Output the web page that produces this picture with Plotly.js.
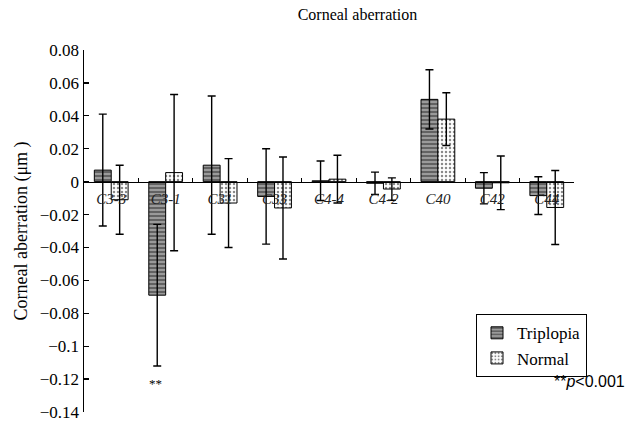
<!DOCTYPE html>
<html>
<head>
<meta charset="utf-8">
<script src="https://cdn.plot.ly/plotly-3.0.1.min.js"></script>
<style>html,body{margin:0;padding:0;background:#fff;}#chart{width:627px;height:423px;}</style>
</head>
<body>
<div id="chart"></div>
<script>
const categories = ["C3-3", "C3-1", "C31", "C33", "C4-4", "C4-2", "C40", "C42", "C44"];
const triplopia = [0.007, -0.069, 0.010, -0.009, 0.0005, -0.001, 0.050, -0.004, -0.0085];
const triplopiaErr = [0.034, 0.043, 0.042, 0.029, 0.012, 0.0068, 0.018, 0.0095, 0.0115];
const normal = [-0.011, 0.0055, -0.013, -0.016, 0.0015, -0.0045, 0.038, -0.0007, -0.0157];
const normalErr = [0.021, 0.0475, 0.027, 0.031, 0.0145, 0.0068, 0.016, 0.0163, 0.0225];
const yTicks = [0.08, 0.06, 0.04, 0.02, 0, -0.02, -0.04, -0.06, -0.08, -0.1, -0.12, -0.14];

const serif = "'Liberation Serif', 'DejaVu Serif', serif";
const sans = "'Liberation Sans', Arial, sans-serif";
const errStyle = {type: "data", visible: true, color: "#000", thickness: 1.4, width: 4};

const traces = [
  {
    type: "bar", name: "Triplopia", x: categories, y: triplopia,
    error_y: Object.assign({array: triplopiaErr}, errStyle),
    marker: {color: "#8c8c8c", line: {color: "#000", width: 1},
      pattern: {shape: "-", fgcolor: "#4a4a4a", bgcolor: "#9a9a9a", size: 4, solidity: 0.35}}
  },
  {
    type: "bar", name: "Normal", x: categories, y: normal,
    error_y: Object.assign({array: normalErr}, errStyle),
    marker: {color: "#ffffff", line: {color: "#000", width: 1},
      pattern: {shape: ".", fgcolor: "#8a8a8a", bgcolor: "#ffffff", size: 4, solidity: 0.3}}
  }
];

const layout = {
  width: 627, height: 423,
  margin: {l: 84, r: 53, t: 50, b: 11},
  paper_bgcolor: "#fff", plot_bgcolor: "#fff",
  font: {family: serif, color: "#000", size: 16},
  title: {text: "Corneal aberration", x: 0.57, xanchor: "center", y: 0.965, yanchor: "middle",
    font: {family: serif, size: 16, color: "#000"}},
  barmode: "group", bargap: 0.38, bargroupgap: 0,
  showlegend: true,
  legend: {x: 0.80, y: 0.27, xanchor: "left", yanchor: "top",
    bordercolor: "#000", borderwidth: 1, bgcolor: "#fff",
    font: {family: serif, size: 17, color: "#000"}, itemwidth: 30, tracegroupgap: 0},
  xaxis: {
    type: "category", anchor: "free", position: 0.63636,
    showline: true, linecolor: "#000", linewidth: 1.3,
    ticks: "inside", ticklen: 4, tickwidth: 1.2, tickcolor: "#000", tickson: "boundaries",
    showgrid: false, zeroline: false,
    tickfont: {family: serif, size: 15, style: "italic", color: "#222"},
    ticklabelstandoff: 3
  },
  yaxis: {
    range: [-0.14, 0.08], tickvals: yTicks,
    showline: true, linecolor: "#000", linewidth: 1.5,
    ticks: "inside", ticklen: 5, tickwidth: 1.3, tickcolor: "#000",
    showgrid: false, zeroline: false,
    tickfont: {family: serif, size: 17, color: "#000"},
    title: {text: "Corneal aberration (μm )", font: {family: serif, size: 18, color: "#000"}, standoff: 7}
  },
  annotations: [
    {xref: "x", yref: "y", x: "C3-1", y: -0.117, text: "**", showarrow: false,
      xanchor: "center", yanchor: "top", xshift: -10, font: {family: serif, size: 13, color: "#000"}},
    {xref: "paper", yref: "paper", x: 1.108, y: 0.085, text: "**<i>p</i>&lt;0.001", showarrow: false,
      xanchor: "right", yanchor: "middle",
      font: {family: sans, size: 16, color: "#000"}}
  ]
};

Plotly.newPlot("chart", traces, layout, {displayModeBar: false, staticPlot: true});
</script>
</body>
</html>
